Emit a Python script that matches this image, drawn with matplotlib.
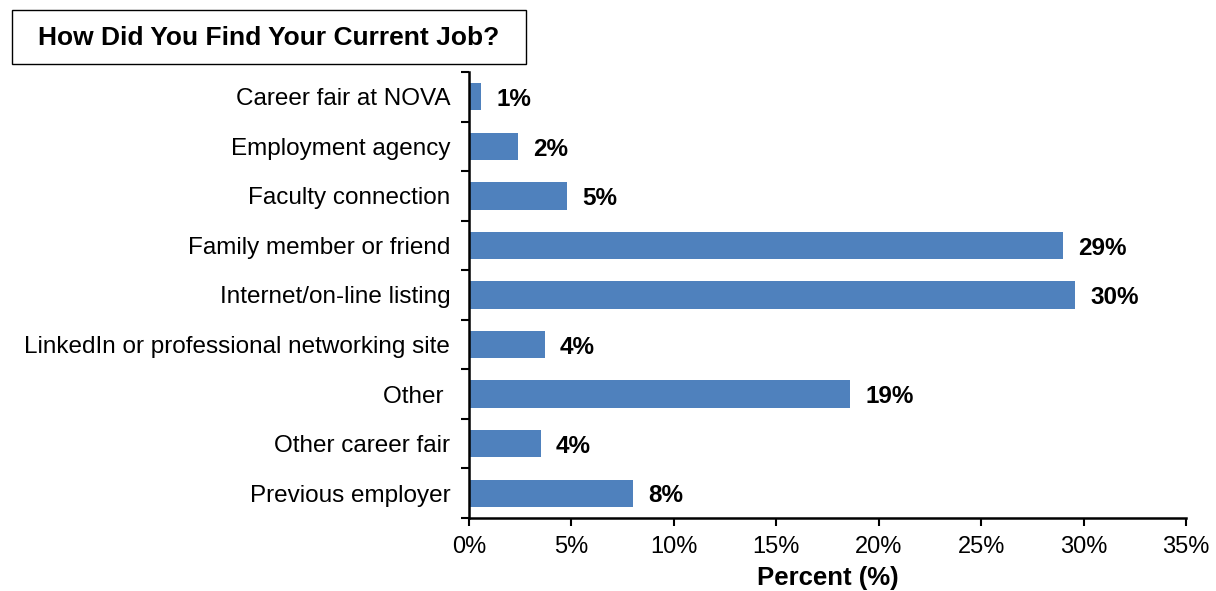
import numpy as np
import matplotlib.pyplot as plt
from matplotlib.patches import Rectangle
from matplotlib.ticker import FuncFormatter

plt.rcParams['font.family'] = ['Liberation Sans', 'DejaVu Sans']

categories = [
    "Career fair at NOVA",
    "Employment agency",
    "Faculty connection",
    "Family member or friend",
    "Internet/on-line listing",
    "LinkedIn or professional networking site",
    "Other ",
    "Other career fair",
    "Previous employer",
]
percents = [0.6, 2.4, 4.8, 29.0, 29.6, 3.7, 18.6, 3.5, 8.0]

fig = plt.figure(figsize=(12.16, 5.91), dpi=100)
ax = fig.add_axes([469 / 1216, 1 - 518 / 591, (1186 - 469) / 1216, (518 - 72) / 591])

y = np.arange(len(categories))
ax.barh(y, percents, height=0.55, color="#4F81BD", edgecolor="none")

for yi, v in zip(y, percents):
    ax.annotate(f"{v:.0f}%", xy=(v, yi), xytext=(11, -2), textcoords="offset points",
                ha="left", va="center", fontsize=17.5, fontweight="bold")

ax.set_ylim(len(categories) - 0.5, -0.5)
ax.set_xlim(0, 35)
ax.set_xticks(np.arange(0, 36, 5))
ax.xaxis.set_major_formatter(FuncFormatter(lambda v, p: f"{v:.0f}%"))

ax.set_yticks(y)
ax.set_yticklabels(categories)
ax.set_yticks(np.arange(-0.5, len(categories)), minor=True)
ax.tick_params(axis="y", which="major", length=0, pad=13.5, labelsize=17.5)
ax.tick_params(axis="y", which="minor", length=6, width=1.5, direction="out")
ax.tick_params(axis="x", length=6, width=1.5, direction="out", labelsize=17, pad=7)

for s in ["top", "right"]:
    ax.spines[s].set_visible(False)
for s in ["left", "bottom"]:
    ax.spines[s].set_linewidth(1.8)

ax.set_xlabel("Percent (%)", fontsize=18.5, fontweight="bold", labelpad=6)

fig.patches.append(Rectangle((12 / 1216, 1 - 64 / 591), (526 - 12) / 1216, 54 / 591,
                             transform=fig.transFigure, fill=False, edgecolor="black", lw=1))
fig.text(269 / 1216, 1 - 38 / 591, "How Did You Find Your Current Job?",
         ha="center", va="center", fontsize=19, fontweight="bold")

fig.savefig("out.png", dpi=100)
